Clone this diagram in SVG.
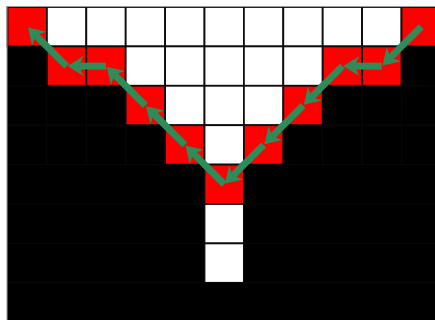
<svg xmlns="http://www.w3.org/2000/svg" width="435" height="320" viewBox="0 0 435 320">
  <style>
    .cell rect { stroke: #0d0d0d; stroke-width: 1.8; }
    .w { fill: #ffffff; }
    .r { fill: #ff0000; }
    .cell rect.b { fill: #000000; stroke: #070707; stroke-width: 1; }
    .path { stroke: #2e8b5a; stroke-width: 7; fill: none; stroke-linecap: butt; }
  </style>
  <defs>
    <marker id="head" markerUnits="userSpaceOnUse" markerWidth="18" markerHeight="22" refX="5" refY="10" orient="auto">
      <path d="M0,0 L16,10 L0,20 L5,10 Z" fill="#2e8b5a"/>
    </marker>
  </defs>
  <rect width="435" height="320" fill="#ffffff"/>

  <!-- grid: 11 columns x 8 rows, cell 39.4 -->
  <g id="grid" class="cell">
    <g id="row0">
      <rect class="r" x="7.5" y="7" width="39.4" height="39.4"/>
      <rect class="w" x="46.9" y="7" width="39.4" height="39.4"/>
      <rect class="w" x="86.3" y="7" width="39.4" height="39.4"/>
      <rect class="w" x="125.7" y="7" width="39.4" height="39.4"/>
      <rect class="w" x="165.1" y="7" width="39.4" height="39.4"/>
      <rect class="w" x="204.5" y="7" width="39.4" height="39.4"/>
      <rect class="w" x="243.9" y="7" width="39.4" height="39.4"/>
      <rect class="w" x="283.3" y="7" width="39.4" height="39.4"/>
      <rect class="w" x="322.7" y="7" width="39.4" height="39.4"/>
      <rect class="w" x="362.1" y="7" width="39.4" height="39.4"/>
      <rect class="r" x="401.5" y="7" width="39.4" height="39.4"/>
    </g>
    <g id="row1">
      <rect class="b" x="7.5" y="46.4" width="39.4" height="39.4"/>
      <rect class="r" x="46.9" y="46.4" width="39.4" height="39.4"/>
      <rect class="r" x="86.3" y="46.4" width="39.4" height="39.4"/>
      <rect class="w" x="125.7" y="46.4" width="39.4" height="39.4"/>
      <rect class="w" x="165.1" y="46.4" width="39.4" height="39.4"/>
      <rect class="w" x="204.5" y="46.4" width="39.4" height="39.4"/>
      <rect class="w" x="243.9" y="46.4" width="39.4" height="39.4"/>
      <rect class="w" x="283.3" y="46.4" width="39.4" height="39.4"/>
      <rect class="r" x="322.7" y="46.4" width="39.4" height="39.4"/>
      <rect class="r" x="362.1" y="46.4" width="39.4" height="39.4"/>
      <rect class="b" x="401.5" y="46.4" width="39.4" height="39.4"/>
    </g>
    <g id="row2">
      <rect class="b" x="7.5" y="85.8" width="39.4" height="39.4"/>
      <rect class="b" x="46.9" y="85.8" width="39.4" height="39.4"/>
      <rect class="b" x="86.3" y="85.8" width="39.4" height="39.4"/>
      <rect class="r" x="125.7" y="85.8" width="39.4" height="39.4"/>
      <rect class="w" x="165.1" y="85.8" width="39.4" height="39.4"/>
      <rect class="w" x="204.5" y="85.8" width="39.4" height="39.4"/>
      <rect class="w" x="243.9" y="85.8" width="39.4" height="39.4"/>
      <rect class="r" x="283.3" y="85.8" width="39.4" height="39.4"/>
      <rect class="b" x="322.7" y="85.8" width="39.4" height="39.4"/>
      <rect class="b" x="362.1" y="85.8" width="39.4" height="39.4"/>
      <rect class="b" x="401.5" y="85.8" width="39.4" height="39.4"/>
    </g>
    <g id="row3">
      <rect class="b" x="7.5" y="125.2" width="39.4" height="39.4"/>
      <rect class="b" x="46.9" y="125.2" width="39.4" height="39.4"/>
      <rect class="b" x="86.3" y="125.2" width="39.4" height="39.4"/>
      <rect class="b" x="125.7" y="125.2" width="39.4" height="39.4"/>
      <rect class="r" x="165.1" y="125.2" width="39.4" height="39.4"/>
      <rect class="w" x="204.5" y="125.2" width="39.4" height="39.4"/>
      <rect class="r" x="243.9" y="125.2" width="39.4" height="39.4"/>
      <rect class="b" x="283.3" y="125.2" width="39.4" height="39.4"/>
      <rect class="b" x="322.7" y="125.2" width="39.4" height="39.4"/>
      <rect class="b" x="362.1" y="125.2" width="39.4" height="39.4"/>
      <rect class="b" x="401.5" y="125.2" width="39.4" height="39.4"/>
    </g>
    <g id="row4">
      <rect class="b" x="7.5" y="164.6" width="197" height="39.4"/>
      <rect class="r" x="204.5" y="164.6" width="39.4" height="39.4"/>
      <rect class="b" x="243.9" y="164.6" width="197" height="39.4"/>
    </g>
    <g id="row5">
      <rect class="b" x="7.5" y="204" width="197" height="39.4"/>
      <rect class="w" x="204.5" y="204" width="39.4" height="39.4"/>
      <rect class="b" x="243.9" y="204" width="197" height="39.4"/>
    </g>
    <g id="row6">
      <rect class="b" x="7.5" y="243.4" width="197" height="39.4"/>
      <rect class="w" x="204.5" y="243.4" width="39.4" height="39.4"/>
      <rect class="b" x="243.9" y="243.4" width="197" height="39.4"/>
    </g>
    <g id="row7">
      <rect class="b" x="7.5" y="282.8" width="433.4" height="39.4"/>
    </g>
    <!-- soft outer edge along the left and top of the board -->
    <path d="M7,322 V6.5 H435" fill="none" stroke="#9a9a9a" stroke-width="1"/>
  </g>

  <!-- boundary traces, one arrow per cell step -->
  <g id="connectors" class="path" marker-end="url(#head)">
    <g id="left-trace">
      <line x1="224.2" y1="184.3" x2="193.3" y2="153.4"/>
      <line x1="184.8" y1="144.9" x2="153.9" y2="114.0"/>
      <line x1="145.4" y1="105.5" x2="114.5" y2="74.6"/>
      <line x1="106" y1="66.1" x2="78.6" y2="66.1"/>
      <line x1="66.6" y1="66.1" x2="35.7" y2="35.2"/>
    </g>
    <g id="right-trace">
      <line x1="421.2" y1="26.7" x2="390.3" y2="57.6"/>
      <line x1="381.8" y1="66.1" x2="354.4" y2="66.1"/>
      <line x1="342.4" y1="66.1" x2="311.5" y2="97.0"/>
      <line x1="303" y1="105.5" x2="272.1" y2="136.4"/>
      <line x1="263.6" y1="144.9" x2="232.7" y2="175.8"/>
    </g>
  </g>
</svg>
